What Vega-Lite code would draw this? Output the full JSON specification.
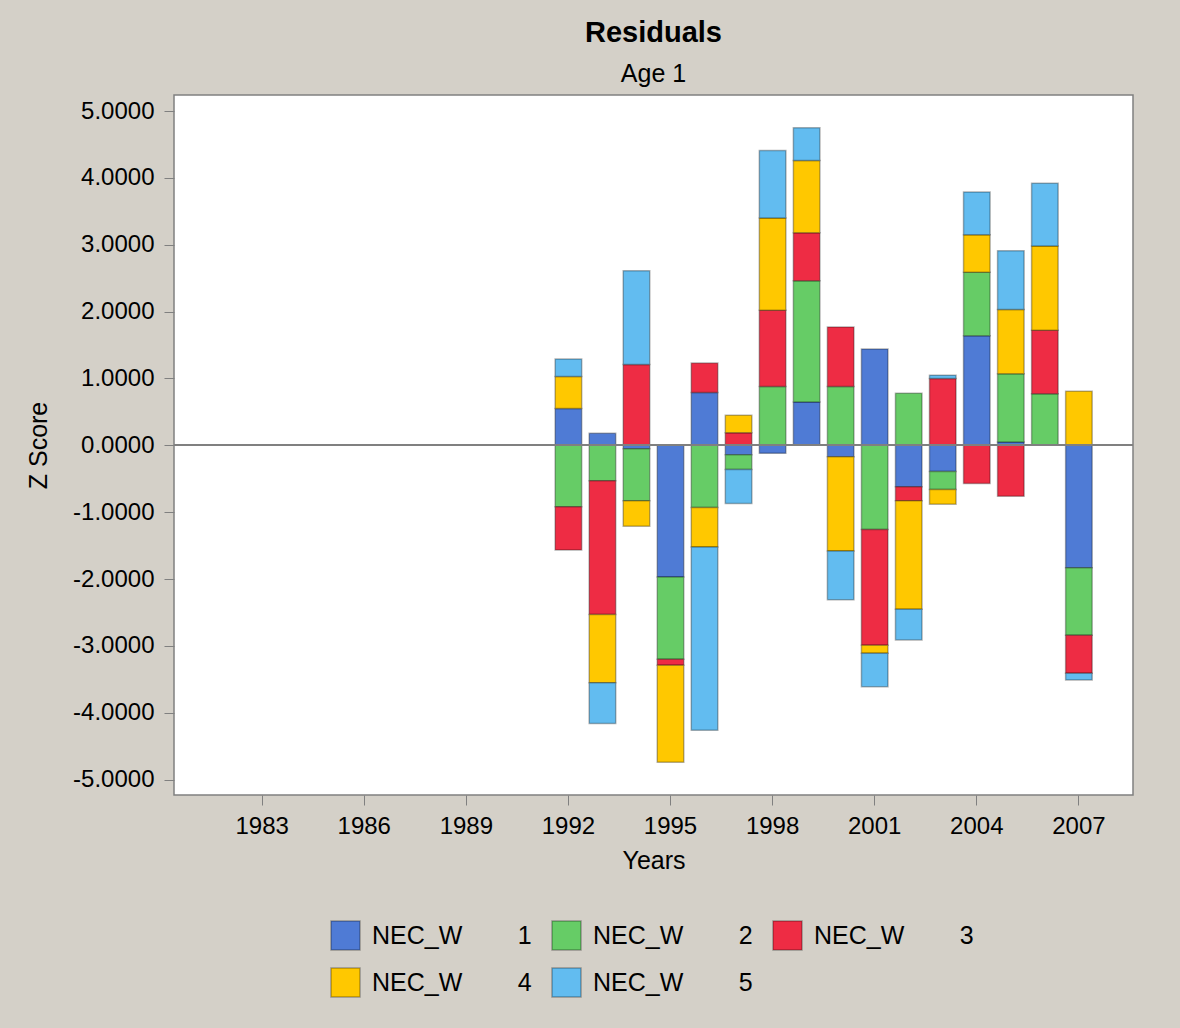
{
  "$schema": "https://vega.github.io/schema/vega-lite/v6.json",
  "width": 959,
  "height": 700,
  "autosize": {"type": "none"},
  "padding": {"left": 174, "top": 95, "right": 47, "bottom": 233},
  "background": "#D4D0C8",
  "title": {
    "text": "Residuals",
    "subtitle": "Age 1",
    "anchor": "middle",
    "frame": "group",
    "font": "Liberation Sans",
    "fontSize": 29,
    "fontWeight": "bold",
    "color": "#000000",
    "subtitleFont": "Liberation Sans",
    "subtitleFontSize": 25,
    "subtitleColor": "#000000",
    "subtitlePadding": 14,
    "offset": 8
  },
  "config": {
    "font": "Liberation Sans",
    "view": {"stroke": "#808080", "fill": "#FFFFFF", "strokeWidth": 1.5},
    "axis": {
      "labelFont": "Liberation Sans",
      "titleFont": "Liberation Sans",
      "labelColor": "#000000",
      "titleColor": "#000000",
      "labelFontSize": 24,
      "titleFontSize": 25,
      "titleFontWeight": "normal",
      "tickColor": "#808080",
      "tickSize": 10,
      "domain": false,
      "grid": false
    }
  },
  "data": {
    "values": [
      {"year": 1992, "series": "NEC_W 1", "value": 0.55},
      {"year": 1992, "series": "NEC_W 2", "value": -0.92},
      {"year": 1992, "series": "NEC_W 3", "value": -0.645},
      {"year": 1992, "series": "NEC_W 4", "value": 0.48},
      {"year": 1992, "series": "NEC_W 5", "value": 0.26},
      {"year": 1993, "series": "NEC_W 1", "value": 0.18},
      {"year": 1993, "series": "NEC_W 2", "value": -0.53},
      {"year": 1993, "series": "NEC_W 3", "value": -2.0},
      {"year": 1993, "series": "NEC_W 4", "value": -1.02},
      {"year": 1993, "series": "NEC_W 5", "value": -0.61},
      {"year": 1994, "series": "NEC_W 1", "value": -0.05},
      {"year": 1994, "series": "NEC_W 2", "value": -0.78},
      {"year": 1994, "series": "NEC_W 3", "value": 1.21},
      {"year": 1994, "series": "NEC_W 4", "value": -0.38},
      {"year": 1994, "series": "NEC_W 5", "value": 1.4},
      {"year": 1995, "series": "NEC_W 1", "value": -1.97},
      {"year": 1995, "series": "NEC_W 2", "value": -1.23},
      {"year": 1995, "series": "NEC_W 3", "value": -0.09},
      {"year": 1995, "series": "NEC_W 4", "value": -1.45},
      {"year": 1996, "series": "NEC_W 1", "value": 0.79},
      {"year": 1996, "series": "NEC_W 2", "value": -0.93},
      {"year": 1996, "series": "NEC_W 3", "value": 0.44},
      {"year": 1996, "series": "NEC_W 4", "value": -0.59},
      {"year": 1996, "series": "NEC_W 5", "value": -2.74},
      {"year": 1997, "series": "NEC_W 1", "value": -0.14},
      {"year": 1997, "series": "NEC_W 2", "value": -0.22},
      {"year": 1997, "series": "NEC_W 3", "value": 0.19},
      {"year": 1997, "series": "NEC_W 4", "value": 0.26},
      {"year": 1997, "series": "NEC_W 5", "value": -0.51},
      {"year": 1998, "series": "NEC_W 1", "value": -0.12},
      {"year": 1998, "series": "NEC_W 2", "value": 0.88},
      {"year": 1998, "series": "NEC_W 3", "value": 1.14},
      {"year": 1998, "series": "NEC_W 4", "value": 1.38},
      {"year": 1998, "series": "NEC_W 5", "value": 1.01},
      {"year": 1999, "series": "NEC_W 1", "value": 0.65},
      {"year": 1999, "series": "NEC_W 2", "value": 1.81},
      {"year": 1999, "series": "NEC_W 3", "value": 0.72},
      {"year": 1999, "series": "NEC_W 4", "value": 1.08},
      {"year": 1999, "series": "NEC_W 5", "value": 0.49},
      {"year": 2000, "series": "NEC_W 1", "value": -0.17},
      {"year": 2000, "series": "NEC_W 2", "value": 0.88},
      {"year": 2000, "series": "NEC_W 3", "value": 0.89},
      {"year": 2000, "series": "NEC_W 4", "value": -1.41},
      {"year": 2000, "series": "NEC_W 5", "value": -0.73},
      {"year": 2001, "series": "NEC_W 1", "value": 1.44},
      {"year": 2001, "series": "NEC_W 2", "value": -1.26},
      {"year": 2001, "series": "NEC_W 3", "value": -1.73},
      {"year": 2001, "series": "NEC_W 4", "value": -0.12},
      {"year": 2001, "series": "NEC_W 5", "value": -0.5},
      {"year": 2002, "series": "NEC_W 1", "value": -0.62},
      {"year": 2002, "series": "NEC_W 2", "value": 0.78},
      {"year": 2002, "series": "NEC_W 3", "value": -0.21},
      {"year": 2002, "series": "NEC_W 4", "value": -1.62},
      {"year": 2002, "series": "NEC_W 5", "value": -0.46},
      {"year": 2003, "series": "NEC_W 1", "value": -0.39},
      {"year": 2003, "series": "NEC_W 2", "value": -0.27},
      {"year": 2003, "series": "NEC_W 3", "value": 1.0},
      {"year": 2003, "series": "NEC_W 4", "value": -0.22},
      {"year": 2003, "series": "NEC_W 5", "value": 0.05},
      {"year": 2004, "series": "NEC_W 1", "value": 1.64},
      {"year": 2004, "series": "NEC_W 2", "value": 0.95},
      {"year": 2004, "series": "NEC_W 3", "value": -0.57},
      {"year": 2004, "series": "NEC_W 4", "value": 0.56},
      {"year": 2004, "series": "NEC_W 5", "value": 0.64},
      {"year": 2005, "series": "NEC_W 1", "value": 0.05},
      {"year": 2005, "series": "NEC_W 2", "value": 1.02},
      {"year": 2005, "series": "NEC_W 3", "value": -0.76},
      {"year": 2005, "series": "NEC_W 4", "value": 0.96},
      {"year": 2005, "series": "NEC_W 5", "value": 0.88},
      {"year": 2006, "series": "NEC_W 2", "value": 0.77},
      {"year": 2006, "series": "NEC_W 3", "value": 0.95},
      {"year": 2006, "series": "NEC_W 4", "value": 1.26},
      {"year": 2006, "series": "NEC_W 5", "value": 0.94},
      {"year": 2007, "series": "NEC_W 1", "value": -1.83},
      {"year": 2007, "series": "NEC_W 2", "value": -1.01},
      {"year": 2007, "series": "NEC_W 3", "value": -0.57},
      {"year": 2007, "series": "NEC_W 4", "value": 0.81},
      {"year": 2007, "series": "NEC_W 5", "value": -0.1}
    ]
  },
  "layer": [
    {
      "mark": {"type": "bar", "stroke": "#000000", "strokeOpacity": 0.3, "strokeWidth": 1.5},
      "encoding": {
        "x": {
          "field": "year",
          "type": "ordinal",
          "scale": {
            "domain": [1981,1982,1983,1984,1985,1986,1987,1988,1989,1990,1991,1992,1993,1994,1995,1996,1997,1998,1999,2000,2001,2002,2003,2004,2005,2006,2007,2008],
            "paddingInner": 0.22,
            "paddingOuter": 0.2
          },
          "axis": {
            "values": [1983,1986,1989,1992,1995,1998,2001,2004,2007],
            "labelAngle": 0,
            "labelPadding": 9,
            "title": "Years",
            "titlePadding": 10
          }
        },
        "y": {
          "field": "value",
          "type": "quantitative",
          "stack": "zero",
          "scale": {"domain": [-5.23, 5.24], "nice": false, "zero": false},
          "axis": {
            "values": [-5,-4,-3,-2,-1,0,1,2,3,4,5],
            "format": ".4f",
            "labelExpr": "replace(datum.label, '\u2212', '-')",
            "labelPadding": 10,
            "title": "Z Score",
            "titlePadding": 21
          }
        },
        "color": {
          "field": "series",
          "type": "nominal",
          "scale": {
            "domain": ["NEC_W 1","NEC_W 2","NEC_W 3","NEC_W 4","NEC_W 5"],
            "range": ["#4F7BD5","#66CC66","#EE2C44","#FFC800","#62BCF0"]
          },
          "legend": {
            "title": null,
            "orient": "none",
            "legendX": 156,
            "legendY": 825,
            "direction": "horizontal",
            "columns": 3,
            "padding": 0,
            "symbolType": "square",
            "symbolSize": 841,
            "symbolStrokeColor": "rgba(0,0,0,0.3)",
            "symbolStrokeWidth": 1.5,
            "labelFont": "Liberation Sans",
            "labelFontSize": 25,
            "labelColor": "#000000",
            "labelOffset": 11,
            "labelLimit": 400,
            "columnPadding": 17,
            "rowPadding": 12,
            "labelExpr": "replace(datum.label, ' ', '\u00a0\u00a0\u00a0\u00a0\u00a0\u00a0\u00a0\u00a0')"
          }
        },
        "order": {"field": "series", "type": "nominal", "sort": "ascending"}
      }
    },
    {
      "mark": {"type": "rule", "color": "#808080", "strokeWidth": 1.5},
      "encoding": {"y": {"datum": 0}}
    }
  ]
}
